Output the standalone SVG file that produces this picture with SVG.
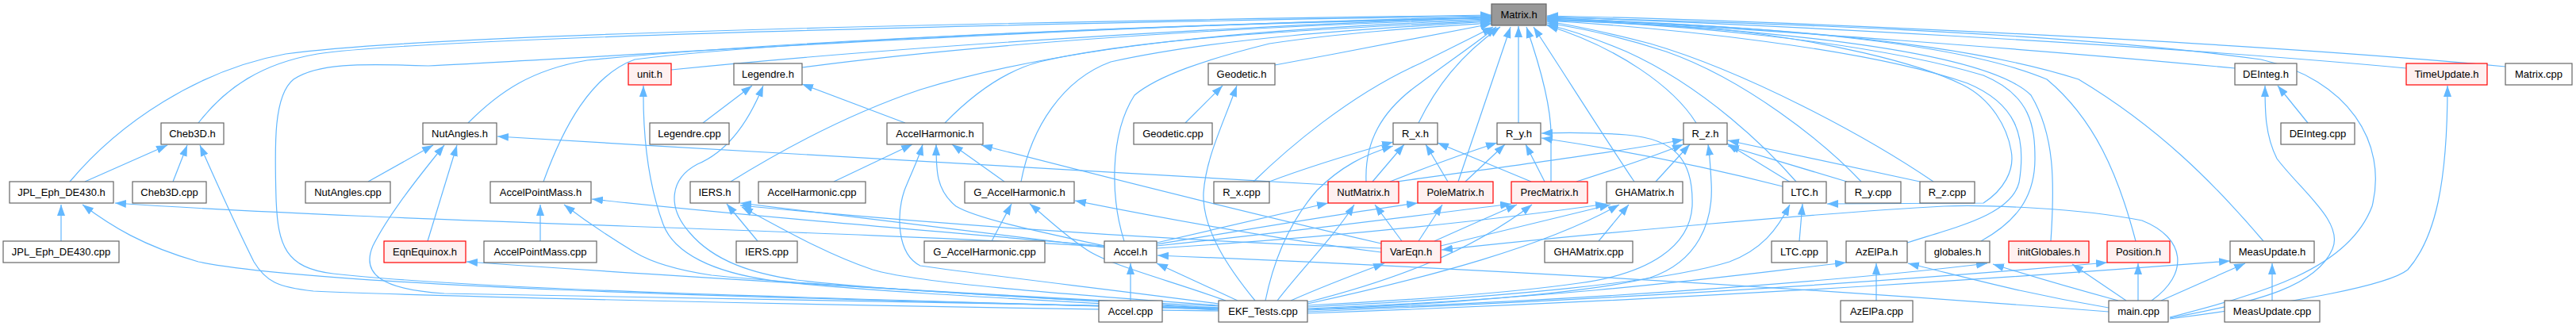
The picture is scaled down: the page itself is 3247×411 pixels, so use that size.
<svg xmlns="http://www.w3.org/2000/svg" width="3247" height="411" viewBox="0 0 3247 411">
<style>
.e{fill:none;stroke:#63b8ff;stroke-width:1.2;marker-end:url(#ah)}
.n rect{fill:#ffffff;stroke:#666666;stroke-width:1.2}
.r rect{fill:#fff0f0;stroke:#ff0000;stroke-width:1.2}
.m rect{fill:#999999;stroke:#666666;stroke-width:1.2}
text{font-family:"Liberation Sans",Arial,sans-serif;font-size:13px;text-anchor:middle;fill:#000}
</style>
<defs>
<marker id="ah" viewBox="0 0 14 10" refX="14" refY="5" markerWidth="14" markerHeight="10" orient="auto" markerUnits="userSpaceOnUse"><path d="M0,0L14,5L0,10z" fill="#63b8ff"/></marker>
</defs>
<rect width="3247" height="411" fill="#ffffff"/>
<g id="edges">
<!-- to Matrix.h -->
<path class="e" d="M88,229 C150,155 250,88 360,68 C520,46 1100,30 1880,19"/>
<path class="e" d="M250,155 C285,110 330,80 400,68 C520,50 1100,33 1880,20"/>
<path class="e" d="M1536,390 C1000,375 600,365 420,345 C360,338 350,310 348,250 C346,180 345,120 370,100 C400,80 450,80 540,83 C800,70 1300,35 1880,21"/>
<path class="e" d="M590,155 C630,115 670,88 740,76 C1000,50 1500,30 1880,22"/>
<path class="e" d="M685,229 C710,160 745,95 800,75 C1000,50 1500,30 1880,23"/>
<path class="e" d="M846,88 C1100,62 1500,35 1880,22"/>
<path class="e" d="M1011,85 C1200,60 1500,35 1880,24"/>
<path class="e" d="M921,229 C1000,180 1080,140 1160,113 C1350,55 1600,35 1880,25"/>
<path class="e" d="M1191,155 C1225,120 1265,90 1310,78 C1450,45 1700,35 1880,26"/>
<path class="e" d="M1287,229 C1300,160 1340,100 1400,78 C1550,45 1750,35 1880,27"/>
<path class="e" d="M1607,82 C1700,65 1800,45 1880,30"/>
<path class="e" d="M1417,304 C1400,250 1398,170 1430,120 C1460,95 1520,75 1600,55 C1700,40 1820,33 1880,29"/>
<path class="e" d="M1580,229 C1620,190 1700,120 1790,80 C1830,60 1860,45 1882,34"/>
<path class="e" d="M1722,229 C1720,180 1740,140 1790,105 C1830,75 1860,55 1886,34"/>
<path class="e" d="M1788,155 C1810,110 1840,70 1891,34"/>
<path class="e" d="M1838,229 L1904,34"/>
<path class="e" d="M1914,155 L1914,33"/>
<path class="e" d="M1955,229 L1955,170 C1955,130 1940,80 1924,34"/>
<path class="e" d="M2060,229 C2020,170 1970,90 1933,34"/>
<path class="e" d="M2138,155 C2110,110 2040,60 1950,32"/>
<path class="e" d="M2264,229 C2230,190 2150,110 2050,65 C2010,48 1980,38 1950,31"/>
<path class="e" d="M2346,229 C2300,180 2200,100 2100,65 C2040,45 1990,35 1950,29"/>
<path class="e" d="M2437,229 C2350,170 2200,90 2080,55 C2030,42 1990,33 1950,27"/>
<path class="e" d="M2404,306 C2470,285 2535,270 2545,230 C2555,170 2540,130 2480,105 C2350,60 2100,35 1950,26"/>
<path class="e" d="M2497,304 C2540,280 2565,250 2565,200 C2565,160 2560,120 2500,95 C2350,50 2100,30 1950,25"/>
<path class="e" d="M2585,304 C2590,230 2590,170 2560,120 C2500,60 2200,35 1950,24"/>
<path class="e" d="M2692,304 C2670,220 2640,150 2580,100 C2450,45 2150,30 1950,23"/>
<path class="e" d="M2817,86 C2600,65 2200,35 1950,22"/>
<path class="e" d="M3033,86 C2700,55 2200,30 1950,21"/>
<path class="e" d="M3158,84 C2800,50 2200,25 1950,20"/>
<path class="e" d="M2853,304 C2790,230 2720,160 2620,100 C2450,45 2150,30 1950,24"/>
<path class="e" d="M2735,400 C2850,370 2960,340 2990,260 C3010,180 2960,100 2850,75 C2600,40 2200,28 1950,22"/>
<!-- Cheb3D / JPL -->
<path class="e" d="M107,229 L211,183"/>
<path class="e" d="M218,229 L236,183"/>
<path class="e" d="M77,304 L77,258"/>
<path class="e" d="M1536,389 C900,375 400,360 250,330 C180,310 140,285 104,258"/>
<path class="e" d="M1392,311 C1000,288 500,280 145,256"/>
<path class="e" d="M1536,392 C1000,385 500,372 395,367 C350,362 335,355 320,330 C300,290 275,235 252,183"/>
<!-- NutAngles / EqnEquinox -->
<path class="e" d="M1536,388 C1100,380 650,372 560,370 C480,365 455,345 470,310 C490,270 530,220 560,183"/>
<path class="e" d="M539,304 L576,183"/>
<path class="e" d="M464,229 L546,183"/>
<path class="e" d="M1674,233 C1400,215 1000,195 627,172"/>
<path class="e" d="M1536,386 C1200,370 800,345 588,330"/>
<!-- AccelPointMass -->
<path class="e" d="M681,304 L681,258"/>
<path class="e" d="M1536,389 C1300,375 1000,358 897,347 C850,340 820,330 800,318 C770,300 740,280 711,258"/>
<path class="e" d="M1392,310 C1100,285 900,268 746,251"/>
<!-- unit / Legendre -->
<path class="e" d="M1536,391 C1300,378 1050,365 969,353 C900,343 850,320 836,283 C820,240 810,180 811,108"/>
<path class="e" d="M886,155 L948,108"/>
<path class="e" d="M1536,388 C1300,375 1100,365 1004,353 C950,345 900,330 869,293 C840,260 845,225 879,207 C920,190 945,150 962,108"/>
<path class="e" d="M1141,155 L1011,106"/>
<!-- IERS -->
<path class="e" d="M955,304 L916,257"/>
<path class="e" d="M1392,312 C1200,290 1050,270 933,256"/>
<path class="e" d="M1741,313 C1400,300 1100,275 933,259"/>
<path class="e" d="M1536,385 C1300,368 1150,355 1100,340 C1040,320 980,285 935,261"/>
<!-- AccelHarmonic -->
<path class="e" d="M1051,229 L1150,182"/>
<path class="e" d="M1266,229 L1200,182"/>
<path class="e" d="M1392,310 C1300,290 1230,275 1205,260 C1180,240 1180,215 1180,182"/>
<path class="e" d="M1536,383 C1400,365 1250,348 1160,335 C1130,320 1130,270 1140,240 C1150,215 1158,200 1163,182"/>
<path class="e" d="M1741,307 C1600,275 1400,225 1237,183"/>
<!-- G_AccelHarmonic -->
<path class="e" d="M1250,304 L1275,257"/>
<path class="e" d="M1545,379 C1480,355 1400,335 1370,315 C1340,295 1320,275 1298,257"/>
<path class="e" d="M1741,318 C1600,300 1450,272 1355,253"/>
<!-- Accel -->
<path class="e" d="M1425,379 L1425,332"/>
<path class="e" d="M1560,379 L1458,332"/>
<path class="e" d="M1458,306 C1550,285 1620,268 1674,256"/>
<path class="e" d="M1458,308 C1600,285 1700,268 1787,256"/>
<path class="e" d="M1458,310 C1650,290 1800,270 1905,257"/>
<path class="e" d="M1458,313 C1700,298 1900,275 2025,257"/>
<path class="e" d="M2658,393 C2300,365 1900,340 1459,322"/>
<!-- R_x -->
<path class="e" d="M1600,229 C1650,210 1700,195 1756,179"/>
<path class="e" d="M1730,229 L1770,182"/>
<path class="e" d="M1825,229 L1797,182"/>
<path class="e" d="M1930,229 L1812,180"/>
<path class="e" d="M1595,379 C1605,330 1625,280 1660,240 C1690,210 1720,195 1756,184"/>
<!-- R_y -->
<path class="e" d="M1752,229 C1800,210 1850,192 1887,180"/>
<path class="e" d="M1847,229 L1897,182"/>
<path class="e" d="M1947,229 L1923,182"/>
<path class="e" d="M2247,235 C2150,210 2050,190 1943,174"/>
<path class="e" d="M1648,385 C1750,380 1900,370 1990,357 C2080,345 2130,310 2133,260 C2135,200 2110,175 2050,170 C2010,167 1970,167 1943,168"/>
<!-- R_z -->
<path class="e" d="M1760,229 C1900,210 2050,190 2122,176"/>
<path class="e" d="M1987,229 C2040,212 2090,195 2122,182"/>
<path class="e" d="M2087,229 L2130,182"/>
<path class="e" d="M1648,390 C1800,385 2000,370 2080,350 C2140,330 2160,280 2157,230 C2156,210 2155,195 2153,182"/>
<path class="e" d="M2257,230 L2177,181"/>
<path class="e" d="M2328,229 L2178,184"/>
<path class="e" d="M2420,229 L2178,177"/>
<!-- VarEqn / matrices -->
<path class="e" d="M1767,304 L1733,258"/>
<path class="e" d="M1788,304 L1818,258"/>
<path class="e" d="M1808,304 C1850,285 1880,272 1912,258"/>
<path class="e" d="M1816,310 C1900,290 1980,270 2030,258"/>
<path class="e" d="M1610,379 C1640,340 1680,300 1707,258"/>
<path class="e" d="M1627,379 C1670,360 1710,345 1745,332"/>
<path class="e" d="M1648,381 C1750,355 1850,320 1931,258"/>
<path class="e" d="M1648,383 C1800,350 1950,310 2041,258"/>
<path class="e" d="M2015,304 L2053,258"/>
<path class="e" d="M2712,379 C2760,345 2755,300 2700,278 C2620,262 2500,258 2450,260 C2300,268 2000,295 1817,315"/>
<!-- LTC -->
<path class="e" d="M2268,304 L2272,257"/>
<path class="e" d="M1648,387 C1900,375 2100,355 2180,330 C2220,315 2240,290 2256,258"/>
<path class="e" d="M1950,26 C1990,27 2050,28 2160,36 C2300,50 2420,80 2474,107 C2510,125 2530,160 2535,190 C2540,215 2525,240 2500,256 L2303,257"/>
<!-- AzElPa / globales / initGlobales / Position -->
<path class="e" d="M2365,379 L2365,332"/>
<path class="e" d="M1648,389 C2000,375 2200,345 2327,331"/>
<path class="e" d="M2658,388 C2550,370 2480,350 2405,332"/>
<path class="e" d="M1648,391 C2100,375 2400,345 2505,332"/>
<path class="e" d="M2670,379 C2600,360 2550,345 2512,333"/>
<path class="e" d="M2680,379 L2612,333"/>
<path class="e" d="M1648,393 C2200,370 2500,345 2656,331"/>
<path class="e" d="M2695,379 L2695,332"/>
<!-- MeasUpdate / DEInteg / TimeUpdate -->
<path class="e" d="M1648,395 C2200,375 2600,345 2811,329"/>
<path class="e" d="M2724,379 L2830,332"/>
<path class="e" d="M2864,379 L2864,332"/>
<path class="e" d="M2909,155 L2871,108"/>
<path class="e" d="M2735,401 C2850,380 2920,360 2940,314 C2955,280 2900,240 2870,200 C2855,170 2855,140 2855,108"/>
<path class="e" d="M2735,402 C2900,380 3010,360 3035,340 C3070,300 3085,230 3085,108"/>
<!-- Geodetic -->
<path class="e" d="M1494,155 L1541,108"/>
<path class="e" d="M1582,379 C1550,340 1515,290 1517,243 C1520,200 1540,160 1559,108"/>
</g>
<g id="n_Matrix_h" class="m"><rect x="1880" y="5" width="69" height="27"/><text x="1914.5" y="23">Matrix.h</text></g>
<g id="n_unit_h" class="r"><rect x="792" y="80" width="54" height="27"/><text x="819" y="98">unit.h</text></g>
<g id="n_Legendre_h" class="n"><rect x="925" y="80" width="86" height="27"/><text x="968" y="98">Legendre.h</text></g>
<g id="n_Geodetic_h" class="n"><rect x="1523" y="80" width="84" height="27"/><text x="1565" y="98">Geodetic.h</text></g>
<g id="n_DEInteg_h" class="n"><rect x="2817" y="80" width="78" height="27"/><text x="2856" y="98">DEInteg.h</text></g>
<g id="n_TimeUpdate_h" class="r"><rect x="3033" y="80" width="102" height="27"/><text x="3084" y="98">TimeUpdate.h</text></g>
<g id="n_Matrix_cpp" class="n"><rect x="3158" y="80" width="84" height="27"/><text x="3200" y="98">Matrix.cpp</text></g>
<g id="n_Cheb3D_h" class="n"><rect x="203" y="155" width="79" height="27"/><text x="242.5" y="173">Cheb3D.h</text></g>
<g id="n_NutAngles_h" class="n"><rect x="533" y="155" width="93" height="27"/><text x="579.5" y="173">NutAngles.h</text></g>
<g id="n_Legendre_cpp" class="n"><rect x="819" y="155" width="100" height="27"/><text x="869" y="173">Legendre.cpp</text></g>
<g id="n_AccelHarmonic_h" class="n"><rect x="1118" y="155" width="121" height="27"/><text x="1178.5" y="173">AccelHarmonic.h</text></g>
<g id="n_Geodetic_cpp" class="n"><rect x="1429" y="155" width="99" height="27"/><text x="1478.5" y="173">Geodetic.cpp</text></g>
<g id="n_R_x_h" class="n"><rect x="1756" y="155" width="56" height="27"/><text x="1784" y="173">R_x.h</text></g>
<g id="n_R_y_h" class="n"><rect x="1887" y="155" width="55" height="27"/><text x="1914.5" y="173">R_y.h</text></g>
<g id="n_R_z_h" class="n"><rect x="2122" y="155" width="55" height="27"/><text x="2149.5" y="173">R_z.h</text></g>
<g id="n_DEInteg_cpp" class="n"><rect x="2875" y="155" width="93" height="27"/><text x="2921.5" y="173">DEInteg.cpp</text></g>
<g id="n_JPL_Eph_DE430_h" class="n"><rect x="12" y="229" width="131" height="27"/><text x="77.5" y="247">JPL_Eph_DE430.h</text></g>
<g id="n_Cheb3D_cpp" class="n"><rect x="167" y="229" width="93" height="27"/><text x="213.5" y="247">Cheb3D.cpp</text></g>
<g id="n_NutAngles_cpp" class="n"><rect x="385" y="229" width="107" height="27"/><text x="438.5" y="247">NutAngles.cpp</text></g>
<g id="n_AccelPointMass_h" class="n"><rect x="618" y="229" width="127" height="27"/><text x="681.5" y="247">AccelPointMass.h</text></g>
<g id="n_IERS_h" class="n"><rect x="870" y="229" width="62" height="27"/><text x="901" y="247">IERS.h</text></g>
<g id="n_AccelHarmonic_cpp" class="n"><rect x="956" y="229" width="135" height="27"/><text x="1023.5" y="247">AccelHarmonic.cpp</text></g>
<g id="n_G_AccelHarmonic_h" class="n"><rect x="1216" y="229" width="138" height="27"/><text x="1285" y="247">G_AccelHarmonic.h</text></g>
<g id="n_R_x_cpp" class="n"><rect x="1530" y="229" width="70" height="27"/><text x="1565" y="247">R_x.cpp</text></g>
<g id="n_NutMatrix_h" class="r"><rect x="1674" y="229" width="89" height="27"/><text x="1718.5" y="247">NutMatrix.h</text></g>
<g id="n_PoleMatrix_h" class="r"><rect x="1787" y="229" width="95" height="27"/><text x="1834.5" y="247">PoleMatrix.h</text></g>
<g id="n_PrecMatrix_h" class="r"><rect x="1905" y="229" width="96" height="27"/><text x="1953" y="247">PrecMatrix.h</text></g>
<g id="n_GHAMatrix_h" class="n"><rect x="2025" y="229" width="96" height="27"/><text x="2073" y="247">GHAMatrix.h</text></g>
<g id="n_LTC_h" class="n"><rect x="2247" y="229" width="55" height="27"/><text x="2274.5" y="247">LTC.h</text></g>
<g id="n_R_y_cpp" class="n"><rect x="2326" y="229" width="70" height="27"/><text x="2361" y="247">R_y.cpp</text></g>
<g id="n_R_z_cpp" class="n"><rect x="2420" y="229" width="69" height="27"/><text x="2454.5" y="247">R_z.cpp</text></g>
<g id="n_JPL_Eph_DE430_cpp" class="n"><rect x="4" y="304" width="146" height="27"/><text x="77" y="322">JPL_Eph_DE430.cpp</text></g>
<g id="n_EqnEquinox_h" class="r"><rect x="484" y="304" width="103" height="27"/><text x="535.5" y="322">EqnEquinox.h</text></g>
<g id="n_AccelPointMass_cpp" class="n"><rect x="610" y="304" width="142" height="27"/><text x="681" y="322">AccelPointMass.cpp</text></g>
<g id="n_IERS_cpp" class="n"><rect x="928" y="304" width="77" height="27"/><text x="966.5" y="322">IERS.cpp</text></g>
<g id="n_G_AccelHarmonic_cpp" class="n"><rect x="1165" y="304" width="152" height="27"/><text x="1241" y="322">G_AccelHarmonic.cpp</text></g>
<g id="n_Accel_h" class="n"><rect x="1392" y="304" width="66" height="27"/><text x="1425" y="322">Accel.h</text></g>
<g id="n_VarEqn_h" class="r"><rect x="1741" y="304" width="75" height="27"/><text x="1778.5" y="322">VarEqn.h</text></g>
<g id="n_GHAMatrix_cpp" class="n"><rect x="1947" y="304" width="111" height="27"/><text x="2002.5" y="322">GHAMatrix.cpp</text></g>
<g id="n_LTC_cpp" class="n"><rect x="2233" y="304" width="70" height="27"/><text x="2268" y="322">LTC.cpp</text></g>
<g id="n_AzElPa_h" class="n"><rect x="2327" y="304" width="77" height="27"/><text x="2365.5" y="322">AzElPa.h</text></g>
<g id="n_globales_h" class="n"><rect x="2427" y="304" width="81" height="27"/><text x="2467.5" y="322">globales.h</text></g>
<g id="n_initGlobales_h" class="r"><rect x="2532" y="304" width="101" height="27"/><text x="2582.5" y="322">initGlobales.h</text></g>
<g id="n_Position_h" class="r"><rect x="2656" y="304" width="79" height="27"/><text x="2695.5" y="322">Position.h</text></g>
<g id="n_MeasUpdate_h" class="n"><rect x="2811" y="304" width="106" height="27"/><text x="2864" y="322">MeasUpdate.h</text></g>
<g id="n_Accel_cpp" class="n"><rect x="1385" y="379" width="80" height="27"/><text x="1425" y="397">Accel.cpp</text></g>
<g id="n_EKF_Tests_cpp" class="n"><rect x="1536" y="379" width="112" height="27"/><text x="1592" y="397">EKF_Tests.cpp</text></g>
<g id="n_AzElPa_cpp" class="n"><rect x="2320" y="379" width="91" height="27"/><text x="2365.5" y="397">AzElPa.cpp</text></g>
<g id="n_main_cpp" class="n"><rect x="2658" y="379" width="75" height="27"/><text x="2695.5" y="397">main.cpp</text></g>
<g id="n_MeasUpdate_cpp" class="n"><rect x="2804" y="379" width="120" height="27"/><text x="2864" y="397">MeasUpdate.cpp</text></g>
</svg>
